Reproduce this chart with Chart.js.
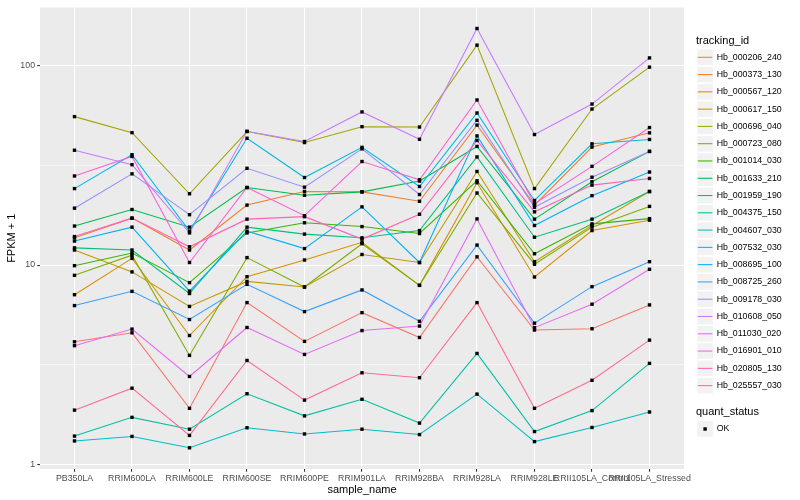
<!DOCTYPE html>
<html>
<head>
<meta charset="utf-8">
<script src="https://cdn.jsdelivr.net/npm/chart.js@4"></script>
<style>
  body { margin: 0; background: #fff; }
  #wrap { width: 800px; height: 500px; }
</style>
</head>
<body>
<div id="wrap"><canvas id="chart" width="800" height="500"></canvas></div>
<script>
// samples on the x axis
const samples = ["PB350LA", "RRIM600LA", "RRIM600LE", "RRIM600SE", "RRIM600PE", "RRIM901LA",
  "RRIM928BA", "RRIM928LA", "RRIM928LE", "RRII105LA_Control", "RRII105LA_Stressed"];

const trackingIds = ["Hb_000206_240", "Hb_000373_130", "Hb_000567_120", "Hb_000617_150", "Hb_000696_040",
  "Hb_000723_080", "Hb_001014_030", "Hb_001633_210", "Hb_001959_190", "Hb_004375_150",
  "Hb_004607_030", "Hb_007532_030", "Hb_008695_100", "Hb_008725_260", "Hb_009178_030",
  "Hb_010608_050", "Hb_011030_020", "Hb_016901_010", "Hb_020805_130", "Hb_025557_030"];

// ggplot hue palette, 20 levels
const lineColors = ["#F8766D", "#EA8331", "#D89000", "#C09B00", "#A3A500", "#7CAE00", "#39B600", "#00BB4E",
  "#00BF7D", "#00C1A3", "#00BFC4", "#00BAE0", "#00B0F6", "#35A2FF", "#9590FF", "#C77CFF",
  "#E76BF3", "#FA62DB", "#FF62BC", "#FF6C91"];

// FPKM + 1, one value per sample
const hb000206 = [4.12, 4.57, 1.91, 6.48, 4.14, 5.77, 4.33, 11.0, 4.72, 4.79, 6.31];
const hb000373 = [13.7, 17.2, 11.9, 20.0, 23.4, 23.3, 20.9, 50.4, 20.0, 39.1, 46.1];
const hb000567 = [7.1, 10.8, 4.43, 8.74, 10.6, 13.0, 7.91, 25.9, 8.71, 14.9, 16.8];
const hb000617 = [11.9, 9.24, 6.2, 8.28, 7.76, 11.3, 10.3, 29.5, 10.4, 15.8, 23.4];
const hb000696 = [55.6, 46.2, 22.8, 46.8, 41.2, 49.5, 49.3, 127, 24.2, 60.7, 98.5];
const hb000723 = [8.88, 11.2, 3.52, 10.9, 7.76, 12.8, 7.91, 23.0, 10.1, 15.5, 19.7];
const hb001014 = [9.93, 11.5, 8.16, 14.5, 16.3, 15.6, 14.4, 26.5, 11.4, 16.1, 17.1];
const hb001633 = [15.7, 19.0, 15.5, 24.5, 22.4, 23.3, 26.4, 39.4, 17.0, 26.2, 37.2];
const hb001959 = [12.2, 11.9, 7.2, 15.5, 14.3, 13.7, 14.9, 34.9, 13.8, 17.0, 23.4];
const hb004375 = [1.385, 1.72, 1.50, 2.26, 1.75, 2.12, 1.61, 3.6, 1.46, 1.86, 3.21];
const hb004607 = [1.31, 1.38, 1.21, 1.525, 1.42, 1.5, 1.41, 2.25, 1.3, 1.53, 1.83];
const hb007532 = [24.2, 35.8, 14.8, 43.3, 27.5, 39.0, 24.8, 58.0, 21.1, 40.6, 42.7];
const hb008695 = [13.2, 15.5, 7.4, 14.8, 12.1, 19.6, 10.3, 44.5, 15.8, 22.3, 29.3];
const hb008725 = [6.26, 7.38, 5.33, 8.0, 5.84, 7.5, 5.22, 12.6, 5.11, 7.79, 10.4];
const hb009178 = [19.3, 28.7, 17.9, 30.6, 24.6, 38.3, 22.6, 53.3, 19.5, 27.6, 37.2];
const hb010608 = [37.7, 31.9, 14.5, 46.9, 41.7, 58.7, 42.8, 154, 45.2, 64.3, 109.6];
const hb011030 = [3.94, 4.77, 2.76, 4.86, 3.56, 4.69, 4.94, 17.05, 4.85, 6.36, 9.52];
const hb016901 = [28.0, 35.1, 10.3, 24.5, 17.7, 33.1, 26.8, 67.4, 20.3, 31.3, 49.0];
const hb020805 = [13.9, 17.2, 12.35, 17.0, 17.5, 13.5, 18.0, 42.2, 18.5, 25.2, 27.2];
const hb025557 = [1.87, 2.41, 1.396, 3.32, 2.1, 2.88, 2.72, 6.48, 1.91, 2.64, 4.2];

const seriesValues = [hb000206, hb000373, hb000567, hb000617, hb000696, hb000723, hb001014,
  hb001633, hb001959, hb004375, hb004607, hb007532, hb008695, hb008725, hb009178, hb010608,
  hb011030, hb016901, hb020805, hb025557];

// log10 breaks: majors labelled, minors in between
const yTicks = [1, 3.1623, 10, 31.623, 100];
const yTickLabels = ["1", "", "10", "", "100"];

Chart.defaults.font.family = "'Liberation Sans', Arial, sans-serif";

const FONT = "'Liberation Sans', Arial, sans-serif";

const panelBg = {
  id: "panelBg",
  beforeDraw(chart) {
    const { ctx, chartArea: a } = chart;
    ctx.save();
    ctx.fillStyle = "#fff";
    ctx.fillRect(0, 0, chart.width, chart.height);
    ctx.fillStyle = "#EBEBEB";
    ctx.fillRect(a.left, a.top, a.right - a.left, a.bottom - a.top);
    ctx.restore();
  }
};

// points go on top of every line, like geom_point after geom_line
const pointsOnTop = {
  id: "pointsOnTop",
  afterDatasetsDraw(chart) {
    const ctx = chart.ctx;
    ctx.save();
    ctx.fillStyle = "#000";
    chart.data.datasets.forEach((ds, i) => {
      chart.getDatasetMeta(i).data.forEach(p => {
        ctx.fillRect(p.x - 1.7, p.y - 1.7, 3.4, 3.4);
      });
    });
    ctx.restore();
  }
};

const ggLegend = {
  id: "ggLegend",
  afterDraw(chart) {
    const ctx = chart.ctx;
    ctx.save();
    ctx.textBaseline = "middle";
    ctx.fillStyle = "#000";
    ctx.font = "11px " + FONT;
    ctx.fillText("tracking_id", 696, 40.5);
    trackingIds.forEach((id, i) => {
      const cy = 57.3 + i * 17.28;
      ctx.fillStyle = "#F2F2F2";
      ctx.fillRect(697.3, cy - 7.8, 15.6, 15.6);
      ctx.strokeStyle = lineColors[i];
      ctx.lineWidth = 1.07;
      ctx.beginPath();
      ctx.moveTo(697.8, cy);
      ctx.lineTo(712.4, cy);
      ctx.stroke();
      ctx.fillStyle = "#000";
      ctx.font = "8.8px " + FONT;
      ctx.fillText(id, 716.7, cy);
    });
    ctx.font = "11px " + FONT;
    ctx.fillText("quant_status", 696, 412.3);
    const cy = 429;
    ctx.fillStyle = "#F2F2F2";
    ctx.fillRect(697.3, cy - 7.8, 15.6, 15.6);
    ctx.fillStyle = "#000";
    ctx.fillRect(705.1 - 1.7, cy - 1.7, 3.4, 3.4);
    ctx.font = "8.8px " + FONT;
    ctx.fillText("OK", 716.7, cy);
    ctx.restore();
  }
};

new Chart(document.getElementById("chart"), {
  type: "line",
  data: {
    datasets: seriesValues.map((vals, i) => ({
      label: trackingIds[i],
      data: vals.map((v, j) => ({ x: j, y: v })),
      borderColor: lineColors[i],
      borderWidth: 1.07,
      pointRadius: 0,
      tension: 0,
      fill: false,
      order: -i
    }))
  },
  options: {
    responsive: false,
    animation: false,
    layout: { padding: { top: 5, right: 116, left: 0, bottom: 0 } },
    plugins: { legend: { display: false }, tooltip: { enabled: false } },
    scales: {
      x: {
        type: "linear",
        bounds: "data",
        min: -0.6,
        max: 10.6,
        afterBuildTicks: s => { s.ticks = samples.map((_, i) => ({ value: i })); },
        afterFit: s => { s.height = 31; },
        ticks: {
          autoSkip: false,
          maxRotation: 0,
          color: "#4D4D4D",
          font: { size: 8.8 },
          padding: 1.5,
          callback: v => samples[v]
        },
        grid: { color: "#fff", lineWidth: 1.07, tickLength: 2.75, tickColor: "#333333" },
        border: { display: false },
        title: { display: true, text: "sample_name", color: "#000", font: { size: 11 }, padding: { top: 0, bottom: 3.8 } }
      },
      y: {
        type: "logarithmic",
        bounds: "data",
        min: 0.947,
        max: 196.3,
        afterBuildTicks: s => { s.ticks = yTicks.map(v => ({ value: v })); },
        afterFit: s => { s.width = 40; },
        ticks: {
          autoSkip: false,
          color: "#4D4D4D",
          font: { size: 8.8 },
          padding: 2.2,
          callback: (v, i) => yTickLabels[i]
        },
        grid: {
          color: "#fff",
          lineWidth: c => (yTickLabels[c.index] ? 1.07 : 0.53),
          tickLength: 2.75,
          tickColor: c => (yTickLabels[c.index] ? "#333333" : "rgba(0,0,0,0)")
        },
        border: { display: false },
        title: { display: true, text: "FPKM + 1", color: "#000", font: { size: 11 }, padding: { top: 5.4, bottom: 0 } }
      }
    }
  },
  plugins: [panelBg, pointsOnTop, ggLegend]
});
</script>
</body>
</html>
